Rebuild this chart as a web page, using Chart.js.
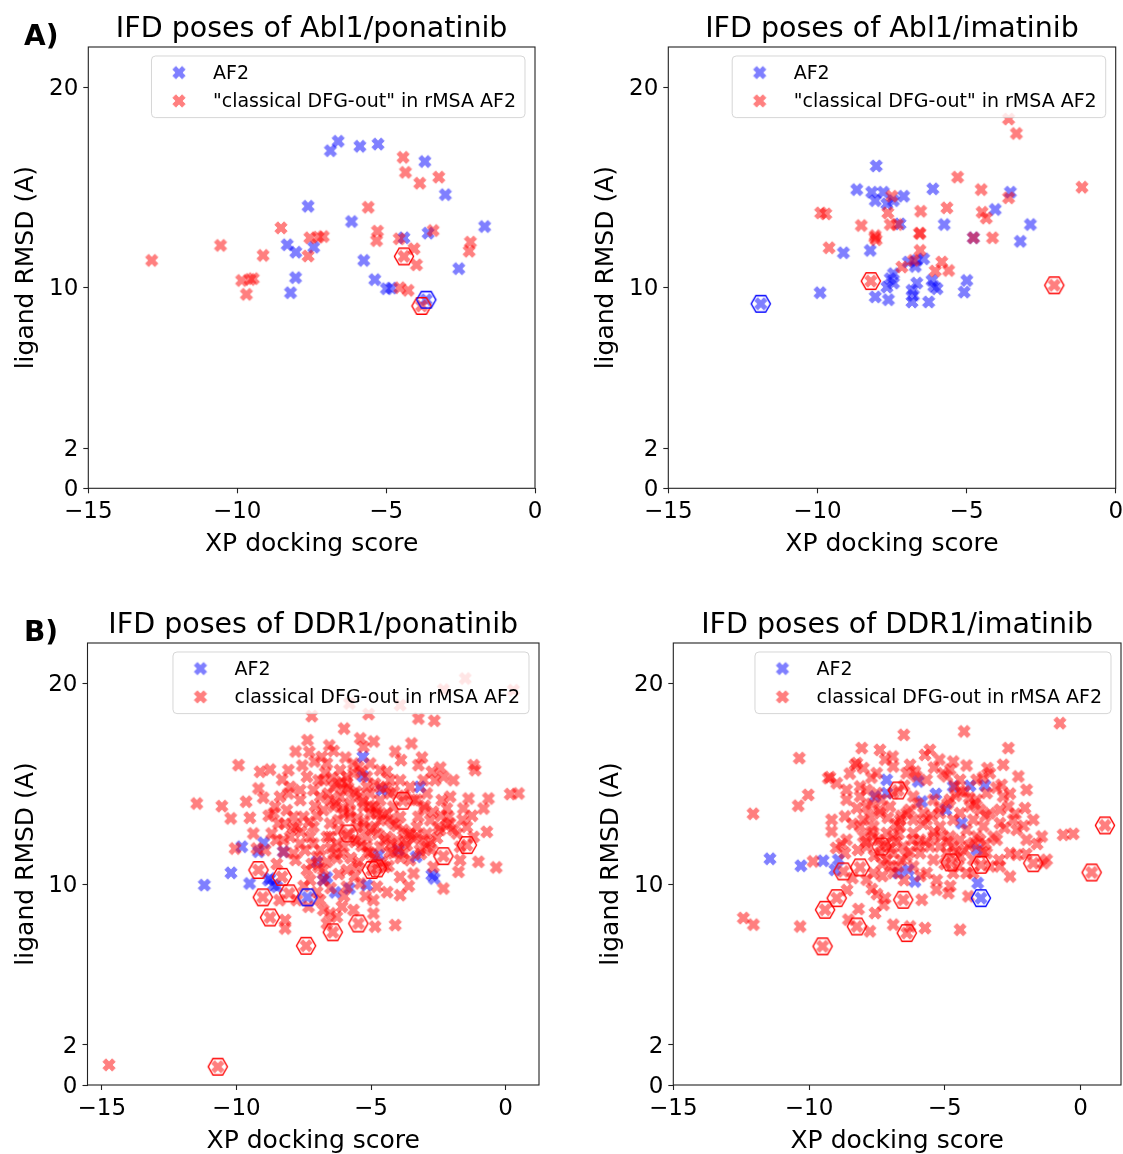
<!DOCTYPE html>
<html><head><meta charset="utf-8">
<script src="https://cdn.jsdelivr.net/npm/chart.js@4.4.1/dist/chart.umd.min.js"></script>
<style>
html,body{margin:0;padding:0;background:#fff;overflow:hidden;width:1123px;height:1154px;position:relative;}
canvas{position:absolute;}
</style></head><body>
<canvas id="cA1"></canvas><canvas id="cA2"></canvas><canvas id="cB1"></canvas><canvas id="cB2"></canvas>
<script>
// ---------- tick labels ----------
const xTicks = [-15, -10, -5, 0];
const yTicks = [0, 2, 10, 20];

// ---------- titles / labels ----------
const titles = ["IFD poses of Abl1/ponatinib", "IFD poses of Abl1/imatinib", "IFD poses of DDR1/ponatinib", "IFD poses of DDR1/imatinib"];
const legendAF2 = "AF2";
const legendRedA = "\"classical DFG-out\" in rMSA AF2";
const legendRedB = "classical DFG-out in rMSA AF2";
const xLabel = "XP docking score";
const yLabel = "ligand RMSD (A)";

// ---------- Panel A left: Abl1 / ponatinib ----------
const ablPonaAF2 = [[-6.87,16.83],[-6.61,17.30],[-5.88,17.05],[-5.27,17.16],[-3.70,16.29],[-3.01,14.64],[-7.62,14.06],[-6.16,13.30],[-1.69,13.05],[-4.40,12.49],[-3.59,12.72],[-8.32,12.14],[-8.03,11.77],[-7.43,12.02],[-5.75,11.36],[-8.04,10.50],[-8.21,9.75],[-2.56,10.95],[-5.38,10.40],[-4.99,9.95],[-4.82,9.98],[-3.65,9.40]];
const ablPonaRed = [[-12.87,11.36],[-10.56,12.11],[-9.13,11.61],[-9.85,10.36],[-9.57,10.41],[-9.46,10.45],[-9.69,9.67],[-8.53,12.98],[-7.56,12.49],[-7.28,12.52],[-7.11,12.55],[-7.62,11.58],[-5.60,14.01],[-5.29,12.82],[-5.32,12.35],[-4.56,12.44],[-4.43,16.50],[-4.35,15.75],[-3.87,15.21],[-3.23,15.51],[-3.42,12.85],[-4.06,11.94],[-3.98,11.14],[-4.40,11.56],[-4.54,10.00],[-4.26,9.87],[-3.81,9.09],[-2.17,12.27],[-2.21,11.82]];
const ablPonaHexRed = [[-4.40,11.56],[-3.81,9.09]];
const ablPonaHexBlue = [[-3.65,9.40]];

// ---------- Panel A right: Abl1 / imatinib ----------
const ablImaAF2 = [[-11.90,9.20],[-9.91,9.75],[-8.68,14.89],[-8.03,16.07],[-8.18,14.76],[-8.06,14.34],[-7.79,14.76],[-7.67,14.18],[-7.45,14.34],[-7.11,14.56],[-7.23,13.18],[-6.13,14.93],[-5.75,13.15],[-9.13,11.74],[-8.23,11.86],[-4.04,13.90],[-3.53,14.76],[-2.86,13.15],[-3.20,12.31],[-4.77,12.49],[-6.95,11.28],[-6.67,11.36],[-6.44,11.44],[-6.72,11.06],[-7.45,10.70],[-7.56,10.45],[-7.67,10.03],[-7.45,10.23],[-8.06,9.54],[-7.62,9.40],[-6.83,9.87],[-6.78,9.62],[-6.83,9.29],[-6.67,10.23],[-6.27,9.29],[-6.16,10.36],[-5.99,9.95],[-6.10,10.07],[-4.99,10.36],[-5.08,9.78]];
const ablImaRed = [[-9.89,13.73],[-9.72,13.68],[-9.61,11.99],[-8.53,13.10],[-8.06,12.60],[-8.03,12.39],[-8.08,12.50],[-7.64,13.73],[-7.51,14.56],[-7.56,13.15],[-7.32,13.15],[-6.58,12.72],[-6.56,12.70],[-6.54,13.81],[-6.56,11.86],[-5.66,13.98],[-5.30,15.51],[-4.51,14.89],[-4.48,13.76],[-4.34,13.47],[-4.77,12.49],[-4.13,12.49],[-3.59,14.48],[-3.59,18.41],[-3.33,17.69],[-1.13,15.01],[-7.17,11.03],[-6.78,11.36],[-5.83,11.28],[-6.05,10.83],[-5.60,10.86],[-8.21,10.33],[-2.06,10.12]];
const ablImaHexRed = [[-8.21,10.33],[-2.06,10.12]];
const ablImaHexBlue = [[-11.90,9.20]];

// ---------- Panel B left: DDR1 / ponatinib ----------
const ddrPonaAF2 = [[-11.19,9.95],[-10.20,10.56],[-9.80,11.86],[-8.99,12.06],[-9.18,11.61],[-9.51,10.03],[-8.81,10.20],[-8.62,9.95],[-8.50,9.87],[-8.75,10.28],[-8.25,11.61],[-7.36,9.34],[-7.01,11.11],[-6.64,10.33],[-6.33,9.59],[-5.80,9.78],[-5.30,16.33],[-5.30,15.37],[-4.60,14.68],[-5.16,9.95],[-4.72,11.44],[-3.98,11.69],[-3.32,11.36],[-3.18,14.84],[-2.74,10.45],[-2.65,10.28],[-6.77,10.20]];
const ddrPonaRed = [[-7.20,18.36],[-6.00,17.74],[-5.40,17.25],[-7.36,17.16],[-7.29,16.58],[-6.39,16.63],[-6.83,16.33],[-6.64,16.00],[-9.92,15.92],[-9.12,15.59],[-8.75,15.70],[-8.07,15.67],[-7.38,15.34],[-6.95,15.17],[-6.15,15.67],[-5.90,15.34],[-6.27,15.01],[-9.18,14.76],[-8.00,14.84],[-8.07,14.51],[-7.63,14.68],[-6.02,14.68],[-5.65,14.51],[-11.47,14.01],[-10.54,13.88],[-9.64,14.10],[-10.21,13.27],[-8.56,13.85],[-8.62,13.52],[-8.44,13.02],[-7.88,13.35],[-7.51,13.35],[-7.08,13.88],[-6.77,13.68],[-7.14,12.85],[-6.52,13.02],[-6.21,13.18],[-5.78,13.35],[-5.53,12.85],[-8.25,12.19],[-8.00,12.35],[-7.63,12.02],[-7.26,12.35],[-6.64,12.35],[-6.89,11.69],[-6.39,11.53],[-6.27,12.02],[-5.84,12.52],[-5.53,12.19],[-10.05,11.77],[-9.24,11.77],[-8.93,11.69],[-8.52,12.19],[-8.25,11.61],[-7.45,11.69],[-7.01,11.36],[-6.64,11.11],[-6.27,11.28],[-5.90,10.70],[-5.53,10.86],[-7.38,10.70],[-6.77,10.70],[-6.77,10.20],[-7.26,10.20],[-9.18,10.70],[-8.31,10.36],[-9.02,9.34],[-8.04,9.54],[-8.75,8.34],[-6.42,7.60],[-7.41,6.93],[-5.47,8.04],[-6.77,8.71],[-6.52,8.54],[-6.27,8.37],[-6.64,8.04],[-8.19,8.21],[-8.19,7.79],[-6.08,8.87],[-5.65,8.71],[-7.32,8.87],[-5.80,18.99],[-5.09,18.46],[-3.92,18.91],[-1.50,20.23],[-2.31,19.68],[0.29,19.65],[-3.24,18.24],[-2.65,18.13],[-3.89,16.17],[-3.11,16.30],[-3.24,15.92],[-2.43,15.80],[-2.31,15.34],[-2.74,15.59],[-1.19,15.92],[-1.13,15.67],[-3.92,15.17],[-3.05,15.17],[-2.62,15.17],[-5.16,15.34],[-4.66,15.67],[-4.29,15.17],[-2.06,14.35],[-1.38,14.26],[-0.64,14.26],[-0.82,13.76],[0.17,14.48],[0.48,14.51],[-2.37,14.18],[-2.18,13.76],[-1.57,13.76],[-3.05,13.76],[-3.24,13.35],[-3.92,13.35],[-4.17,13.02],[-4.66,13.18],[-5.03,13.52],[-5.28,13.85],[-4.85,12.85],[-4.41,12.35],[-3.67,12.52],[-3.42,12.27],[-2.93,12.52],[-2.43,12.69],[-2.49,12.85],[-2.06,13.02],[-2.12,13.35],[-1.81,12.52],[-1.44,12.85],[-1.19,12.35],[-0.70,12.60],[-1.01,11.11],[-0.35,10.83],[-1.75,10.61],[-1.69,11.19],[-2.31,9.78],[-1.44,11.94],[-2.31,11.39],[-3.82,14.15],[-4.97,10.70],[-4.78,10.78],[-3.92,9.45],[-4.10,7.96],[-4.91,8.54],[-4.85,7.88],[-4.17,11.53],[-3.79,11.53],[-2.93,11.86],[-3.18,11.69],[-3.67,11.94],[-4.66,11.86],[-5.03,11.53],[-4.48,10.86],[-5.16,11.86],[-4.78,9.87],[-14.73,1.00],[-10.69,0.91],[-5.28,16.83],[-5.47,15.84],[-5.90,15.01],[-6.39,14.84],[-6.77,15.17],[-7.14,14.68],[-8.38,14.35],[-6.89,14.35],[-6.52,14.18],[-6.15,14.35],[-5.78,14.01],[-5.40,14.35],[-5.03,14.51],[-4.91,13.85],[-4.66,14.18],[-4.29,14.51],[-3.55,14.84],[-3.42,14.18],[-5.28,12.85],[-4.78,13.52],[-4.41,13.52],[-4.17,13.85],[-5.16,12.35],[-4.04,12.19],[-3.30,12.85],[-2.80,13.18],[-3.55,11.19],[-2.68,10.86],[-7.76,12.85],[-8.13,13.68],[-7.63,14.18],[-6.39,13.85],[-6.02,13.52],[-5.16,14.84],[-4.66,14.84],[-5.65,15.51],[-5.03,16.00],[-4.41,15.59],[-1.94,15.17],[-2.93,14.51],[-6.52,12.35],[-6.02,11.86],[-7.14,12.02],[-8.69,12.52],[-9.37,12.52],[-7.88,11.53],[-1.69,11.86],[-3.42,10.53],[-3.92,10.36],[-5.40,10.03],[-5.90,9.87],[-7.76,9.20],[-6.89,9.20],[-4.91,9.20],
[-6.70,15.55],[-6.45,15.30],[-6.10,15.10],[-5.85,14.80],[-5.55,14.60],[-5.30,14.10],[-5.05,13.90],[-4.80,13.70],[-4.55,13.40],[-4.30,13.20],[-4.05,12.90],[-3.80,12.70],[-3.55,12.50],[-3.30,12.40],[-3.05,12.20],[-2.80,12.10],[-6.60,14.50],[-6.30,14.00],[-6.05,13.80],[-5.80,13.60],[-5.50,13.30],[-5.25,13.10],[-5.00,12.70],[-4.75,12.50],[-4.50,12.20],[-4.25,12.00],[-4.00,11.80],[-3.75,12.10],[-7.00,13.40],[-7.30,13.10],[-7.60,12.60],[-7.90,12.80],[-8.20,13.00],[-6.20,12.70],[-5.90,12.40],[-5.60,12.10],[-5.35,11.90],[-5.10,11.60],[-4.90,11.30],[-4.60,11.10],[-4.35,10.90],[-6.50,11.80],[-6.10,11.50],[-5.75,11.30],[-5.45,11.10],[-7.20,11.00],[-6.95,10.85],[-7.80,11.20],[-8.50,11.00],[-7.55,15.90],[-7.10,16.10],[-6.55,16.90],[-5.95,16.30],[-5.65,16.00],[-5.35,15.60],[-4.85,15.00],[-4.45,14.80],[-4.15,14.60],[-3.75,14.40],[-3.30,14.20],[-3.00,13.90],[-2.70,13.60],[-2.40,13.40],[-2.20,12.90],[-1.95,12.70],[-1.60,13.20],[-1.25,13.40],[-2.55,12.30],[-3.15,11.50],[-2.75,11.70],[-3.90,11.30],[-4.30,11.60],[-5.60,10.40],[-6.20,10.50],[-6.50,9.80],[-6.00,9.40],[-7.00,9.60],[-7.50,9.90],[-8.40,9.20],[-5.20,9.40],[-4.40,9.60],[-3.60,9.90],[-8.80,13.40],[-9.50,13.30],[-9.00,14.30],[-8.30,15.20],[-7.80,16.60],[-4.90,17.10],[-4.10,16.60],[-3.50,17.00]];
const ddrPonaHexRed = [[-5.84,12.52],[-9.18,10.70],[-8.31,10.36],[-9.02,9.34],[-8.04,9.54],[-8.75,8.34],[-6.42,7.60],[-7.41,6.93],[-5.47,8.04],[-3.82,14.15],[-4.97,10.70],[-4.78,10.78],[-1.44,11.94],[-2.31,11.39],[-10.69,0.91]];
const ddrPonaHexBlue = [[-7.36,9.34]];

// ---------- Panel B right: DDR1 / imatinib ----------
const ddrImaAF2 = [[-11.44,11.26],[-10.30,10.91],[-9.48,11.16],[-8.92,11.21],[-9.05,10.71],[-7.14,15.19],[-7.14,14.53],[-7.57,14.36],[-5.98,15.11],[-5.85,14.11],[-5.33,14.49],[-4.96,13.70],[-4.69,14.86],[-4.07,14.89],[-3.52,14.91],[-4.38,13.03],[-3.83,11.71],[-3.79,10.05],[-6.71,10.55],[-6.34,10.71],[-6.10,10.13],[-3.67,9.30]];
const ddrImaRed = [[-6.51,17.43],[-8.06,16.77],[-7.39,16.68],[-6.92,16.35],[-10.36,16.27],[-8.24,16.02],[-8.00,15.77],[-9.29,15.27],[-9.23,15.32],[-10.03,14.44],[-10.40,13.90],[-12.06,13.50],[-9.17,13.20],[-9.17,12.62],[-8.68,13.37],[-8.62,14.20],[-8.12,14.86],[-8.24,13.78],[-7.76,13.37],[-7.51,14.53],[-7.33,14.20],[-6.72,14.66],[-7.63,12.37],[-7.33,11.87],[-6.90,12.37],[-6.53,11.87],[-7.88,11.87],[-8.00,12.37],[-7.14,11.21],[-6.72,10.88],[-9.85,11.13],[-8.74,10.63],[-8.12,10.83],[-7.88,10.22],[-7.69,9.75],[-8.98,9.30],[-9.41,8.72],[-8.24,7.89],[-9.50,6.90],[-6.53,9.22],[-6.40,7.56],[-8.18,8.76],[-7.26,8.97],[-7.57,8.56],[-6.90,7.98],[-7.76,7.65],[-8.55,8.23],[-12.42,8.31],[-12.05,7.98],[-10.33,7.89],[-0.76,18.01],[-4.29,17.60],[-2.66,16.77],[-5.55,16.68],[-5.73,16.43],[-4.69,16.10],[-3.43,15.77],[-2.85,15.94],[-2.29,15.36],[-2.91,14.94],[-4.93,15.36],[-6.04,15.36],[-6.28,15.94],[-4.63,14.86],[-4.26,14.61],[-3.83,14.20],[-2.66,13.86],[-2.05,13.78],[-2.48,13.20],[-2.35,12.70],[-1.43,12.37],[-0.64,12.45],[-0.27,12.50],[-2.97,13.03],[-3.21,12.37],[-3.58,12.87],[-3.83,12.37],[-3.46,11.54],[-2.60,11.54],[-2.35,11.46],[-2.60,10.38],[-2.97,10.88],[-5.31,9.72],[-4.87,9.55],[-4.13,9.39],[-5.85,9.22],[-5.73,7.81],[-4.44,7.73],[-6.28,7.89],[-5.42,11.21],[-4.20,10.55],[-5.91,12.21],[-5.42,12.37],[-4.81,12.37],[-4.20,12.70],[-6.41,13.53],[-5.79,13.53],[-5.18,13.53],[-4.44,13.53],[-4.07,13.86],[-6.16,14.36],[-5.42,14.20],[0.90,12.92],[0.41,10.58],[-1.74,11.04],[-3.67,10.96],[-4.78,11.08],[-8.31,15.94],[-7.51,15.52],[-6.90,15.85],[-6.41,15.52],[-5.67,15.19],[-5.06,15.52],[-4.44,15.19],[-3.83,15.19],[-3.34,15.52],[-8.62,14.69],[-8.12,14.36],[-7.88,13.86],[-7.39,13.53],[-7.02,13.86],[-6.65,13.20],[-6.16,13.20],[-5.67,13.20],[-5.18,12.87],[-4.69,13.20],[-3.95,13.20],[-3.34,13.53],[-2.97,13.70],[-8.12,12.87],[-7.63,12.87],[-7.14,12.54],[-6.65,12.87],[-6.16,12.54],[-5.55,11.87],[-5.18,11.87],[-4.69,11.87],[-4.44,12.21],[-3.95,12.04],[-3.09,12.21],[-7.39,11.54],[-6.90,11.54],[-6.41,11.38],[-5.91,11.54],[-4.93,11.54],[-4.44,11.38],[-3.95,11.21],[-3.34,10.88],[-7.63,10.55],[-6.90,10.55],[-6.16,10.88],[-5.67,10.55],[-4.69,10.55],[-3.95,10.55],[-8.62,12.21],[-8.68,11.54],[-8.98,15.02],[-1.99,14.69],[-1.74,13.20],[-1.99,12.21],[-2.85,14.36],[-3.46,14.53],[-4.81,14.20],[-6.90,14.53],[-7.88,14.69],[-1.25,11.21],[-1.37,11.04],
[-8.40,13.00],[-8.00,13.20],[-7.70,12.60],[-7.45,12.20],[-7.20,12.00],[-7.00,11.80],[-6.80,12.10],[-7.90,12.10],[-8.20,11.70],[-7.60,11.40],[-7.30,11.00],[-7.00,10.90],[-6.60,11.20],[-6.30,11.60],[-6.00,11.90],[-5.70,12.10],[-5.40,12.60],[-5.10,12.40],[-4.90,12.10],[-4.60,11.60],[-4.30,11.70],[-4.10,11.90],[-3.70,12.20],[-3.50,12.00],[-5.80,13.00],[-5.50,13.40],[-5.20,13.80],[-4.90,14.00],[-4.60,14.40],[-4.40,14.60],[-4.10,14.30],[-3.90,14.00],[-3.70,13.70],[-3.50,13.40],[-6.00,14.00],[-6.30,13.70],[-6.60,13.40],[-6.80,13.00],[-7.10,13.30],[-7.40,13.70],[-7.70,14.00],[-6.50,14.90],[-6.10,15.60],[-5.40,15.80],[-4.80,15.70],[-4.20,15.90],[-5.20,16.20],[-7.70,15.30],[-7.20,16.20],[-8.50,15.50],[-6.70,12.50],[-6.20,12.20],[-5.00,11.00],[-4.50,10.90],[-5.90,10.40],[-6.50,10.20],[-7.30,10.40],[-8.40,10.30],[-7.50,9.50],[-5.30,10.20],[-4.80,9.90],[-3.60,11.60],[-3.00,11.20],[-2.80,12.80],[-2.40,13.50],[-2.10,12.90],[-2.60,14.50],[-3.10,14.80],[-3.60,15.30],[-2.00,11.50],[-1.60,12.00],[-8.80,12.00],[-9.00,11.80],[-8.60,9.70],[-7.20,9.30]];
const ddrImaHexRed = [[-6.72,14.66],[-7.33,11.87],[-8.74,10.63],[-8.12,10.83],[-8.98,9.30],[-9.41,8.72],[-8.24,7.89],[-9.50,6.90],[-6.53,9.22],[-6.40,7.56],[0.90,12.92],[0.41,10.58],[-1.74,11.04],[-3.67,10.96],[-4.78,11.08]];
const ddrImaHexBlue = [[-3.67,9.30]];

// ---------- marker images ----------
function makeX(color) {
  const s = 18, c = document.createElement('canvas'); c.width = s; c.height = s;
  const t = document.createElement('canvas'); t.width = s; t.height = s;
  const g = t.getContext('2d');
  const v = [[-1,-2],[0,-1],[1,-2],[2,-1],[1,0],[2,1],[1,2],[0,1],[-1,2],[-2,1],[-1,0],[-2,-1]];
  const k = 12.4 / 4;
  g.beginPath();
  v.forEach((p, i) => { const px = s/2 + p[0]*k, py = s/2 + p[1]*k; i ? g.lineTo(px, py) : g.moveTo(px, py); });
  g.closePath();
  g.fillStyle = color; g.strokeStyle = color; g.lineWidth = 1; g.lineJoin = 'miter';
  g.fill(); g.stroke();
  const o = c.getContext('2d'); o.globalAlpha = 0.5; o.drawImage(t, 0, 0);
  return c;
}
function makeHex(color) {
  const s = 26, c = document.createElement('canvas'); c.width = s; c.height = s;
  const g = c.getContext('2d');
  g.beginPath();
  for (let i = 0; i < 6; i++) { const a = i * Math.PI / 3; const px = s/2 + 9.6*Math.cos(a), py = s/2 + 9.6*Math.sin(a); i ? g.lineTo(px, py) : g.moveTo(px, py); }
  g.closePath(); g.strokeStyle = color; g.lineWidth = 1.4; g.stroke();
  return c;
}
const blueX = makeX('#0000ff'), redX = makeX('#ff0000');
const blueHex = makeHex('#0000ff'), redHex = makeHex('#ff0000');

Chart.defaults.font.family = "'DejaVu Sans', sans-serif";
Chart.defaults.color = '#000';

const framePlugin = {
  id: 'frame',
  afterDatasetsDraw(chart, args, opts) {
    const ctx = chart.ctx, a = chart.chartArea;
    ctx.save();
    ctx.strokeStyle = '#222'; ctx.lineWidth = 1.1;
    ctx.strokeRect(a.left, a.top, a.right - a.left, a.bottom - a.top);
    // legend inside axes (upper right)
    const items = chart.data.datasets.filter(d => d.inLegend);
    ctx.font = '19px "DejaVu Sans"';
    const tw = Math.max(...items.map(d => ctx.measureText(d.label).width));
    const w = 61.5 + tw + 9, h = 61.6;
    const x0 = a.right - 10 - w, y0 = a.top + 9;
    ctx.beginPath();
    ctx.roundRect(x0, y0, w, h, 4);
    ctx.fillStyle = 'rgba(255,255,255,0.8)'; ctx.fill();
    ctx.strokeStyle = 'rgba(204,204,204,0.8)'; ctx.lineWidth = 1; ctx.stroke();
    items.forEach((d, i) => {
      const cy = y0 + 16.6 + i * 28.3;
      const img = d.pointStyle;
      ctx.drawImage(img, x0 + 27.5 - img.width/2, cy - img.height/2);
      ctx.fillStyle = '#000'; ctx.textBaseline = 'middle'; ctx.textAlign = 'left';
      ctx.fillText(d.label, x0 + 61.5, cy + 1.3);
    });
    if (opts.panel) {
      ctx.font = 'bold 28px "DejaVu Sans"'; ctx.textBaseline = 'alphabetic'; ctx.fillStyle = '#000';
      ctx.fillText(opts.panel, 24, a.top - 1.7);
    }
    ctx.restore();
  }
};

const fmt = v => (v < 0 ? '\u2212' + Math.abs(v) : String(v));
const toPts = arr => arr.map(p => ({x: p[0], y: p[1]}));

function makeChart(id, box, cfg) {
  const cv = document.getElementById(id);
  cv.width = box.w; cv.height = box.h;
  cv.style.left = box.x + 'px'; cv.style.top = box.y + 'px';
  return new Chart(cv, {
    type: 'scatter',
    data: { datasets: [
      { label: legendAF2, data: toPts(cfg.af2), pointStyle: blueX, pointRadius: 6, order: 4, inLegend: true },
      { label: cfg.redLabel, data: toPts(cfg.red), pointStyle: redX, pointRadius: 6, order: 3, inLegend: true },
      { label: 'sel-red', data: toPts(cfg.hexRed), pointStyle: redHex, pointRadius: 9, order: 2 },
      { label: 'sel-blue', data: toPts(cfg.hexBlue), pointStyle: blueHex, pointRadius: 9, order: 1 }
    ]},
    options: {
      responsive: false, animation: false, events: [],
      layout: { padding: { left: 0, right: box.padR, top: 0, bottom: 0 } },
      plugins: {
        legend: { display: false }, tooltip: { enabled: false },
        title: { display: true, text: cfg.title, fullSize: false, color: '#000',
                 font: { size: 28.5, weight: 'normal', lineHeight: 1.2 }, padding: { top: 12.4, bottom: 0.4 } },
        frame: { panel: cfg.panel }
      },
      scales: {
        x: {
          type: 'linear', position: 'bottom', min: cfg.xMin, max: cfg.xMax,
          afterBuildTicks: s => { s.ticks = xTicks.map(v => ({ value: v })); },
          afterFit: s => { s.height = box.xH; },
          ticks: { font: { size: 23 }, padding: 5, color: '#000', maxRotation: 0, callback: v => fmt(v) },
          grid: { drawOnChartArea: false, drawTicks: true, tickLength: 5, tickColor: '#222', tickWidth: 1.1 },
          border: { display: false },
          title: { display: true, text: xLabel, color: '#000', font: { size: 25, lineHeight: 1.2 }, padding: { top: 0, bottom: 11 } }
        },
        y: {
          type: 'linear', position: 'left', min: 0, max: 22,
          afterBuildTicks: s => { s.ticks = yTicks.map(v => ({ value: v })); },
          afterFit: s => { s.width = box.yW; },
          ticks: { font: { size: 23 }, padding: 5, color: '#000', labelOffset: 1.8, callback: v => fmt(v) },
          grid: { drawOnChartArea: false, drawTicks: true, tickLength: 5, tickColor: '#222', tickWidth: 1.1 },
          border: { display: false },
          title: { display: true, text: yLabel, color: '#000', font: { size: 25, lineHeight: 1.2 }, padding: { top: 11, bottom: 0 } }
        }
      }
    },
    plugins: [framePlugin]
  });
}

makeChart('cA1', { x: 0, y: 0, w: 560, h: 570, padR: 25, yW: 88.3, xH: 81.7 },
  { title: titles[0], af2: ablPonaAF2, red: ablPonaRed, hexRed: ablPonaHexRed, hexBlue: ablPonaHexBlue, redLabel: legendRedA, xMin: -15, xMax: 0, panel: 'A)' });
makeChart('cA2', { x: 580, y: 0, w: 555, h: 570, padR: 19.3, yW: 88.3, xH: 81.7 },
  { title: titles[1], af2: ablImaAF2, red: ablImaRed, hexRed: ablImaHexRed, hexBlue: ablImaHexBlue, redLabel: legendRedA, xMin: -15, xMax: 0 });
makeChart('cB1', { x: 0, y: 596, w: 560, h: 571, padR: 21, yW: 87.5, xH: 82 },
  { title: titles[2], af2: ddrPonaAF2, red: ddrPonaRed, hexRed: ddrPonaHexRed, hexBlue: ddrPonaHexBlue, redLabel: legendRedB, xMin: -15.53, xMax: 1.24, panel: 'B)' });
makeChart('cB2', { x: 585, y: 596, w: 556, h: 571, padR: 20, yW: 88.3, xH: 82 },
  { title: titles[3], af2: ddrImaAF2, red: ddrImaRed, hexRed: ddrImaHexRed, hexBlue: ddrImaHexBlue, redLabel: legendRedB, xMin: -15, xMax: 1.49 });
</script>
</body></html>
